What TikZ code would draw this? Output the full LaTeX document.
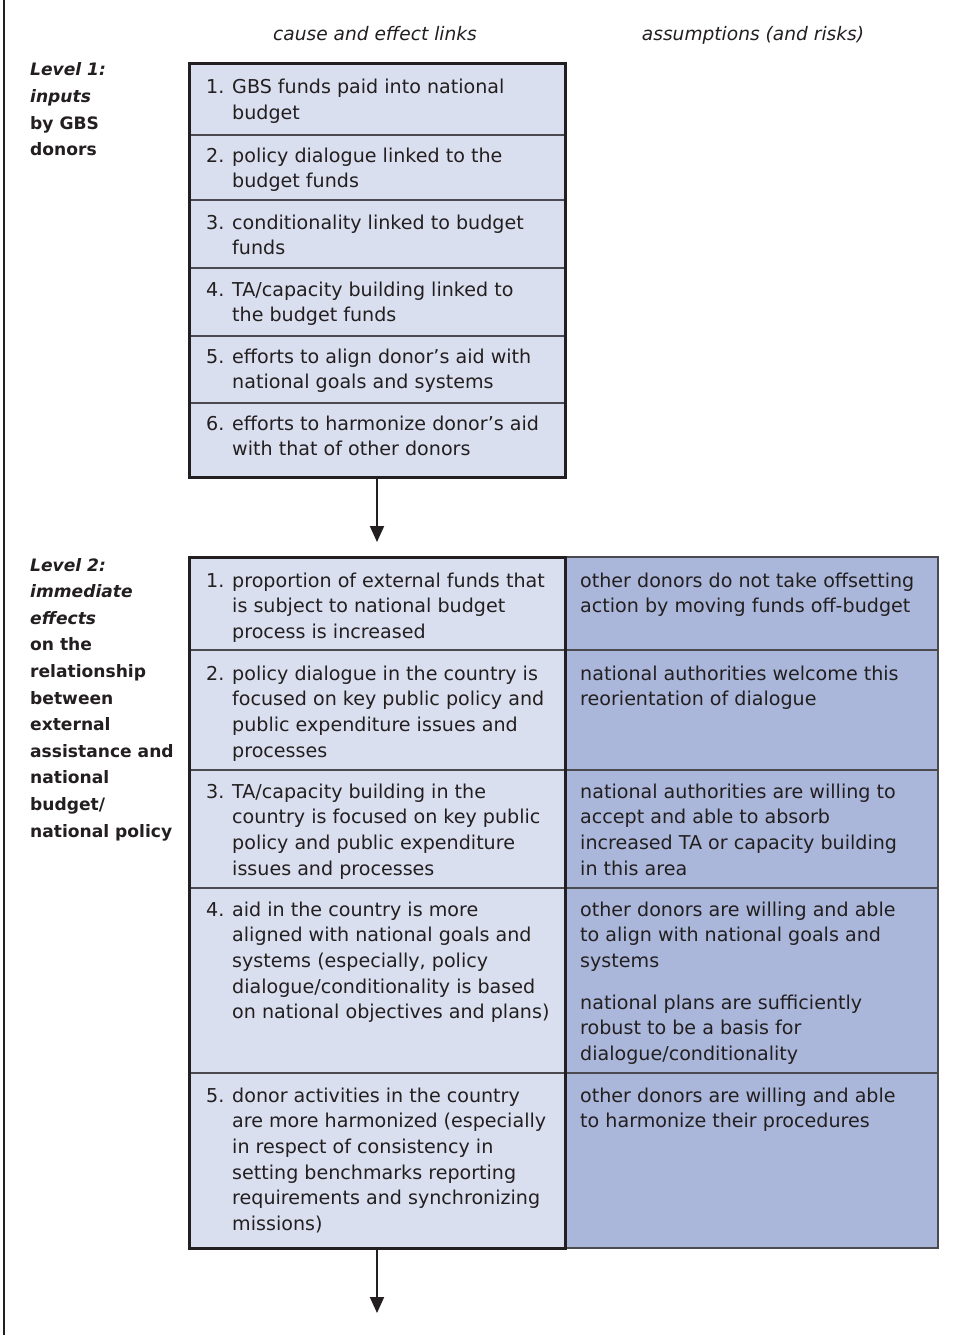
\documentclass[tikz,border=0pt]{standalone}
\usepackage{fontspec}
\setmainfont{DejaVu Sans}
\usetikzlibrary{arrows.meta}
\definecolor{ink}{HTML}{231F20}
\definecolor{lightfill}{HTML}{DADFEF}
\definecolor{darkfill}{HTML}{AAB7DA}
\definecolor{rulegray}{HTML}{4A4A50}
\newcommand{\itm}[2]{\makebox[26pt][l]{#1}\begin{tabular}[t]{@{}l@{}}#2\end{tabular}}
\newcommand{\lns}[1]{\begin{tabular}[t]{@{}l@{}}#1\end{tabular}}
\begin{document}
\begin{tikzpicture}[x=1pt,y=-1pt,
  txt/.style={anchor=base west, inner sep=0pt, text=ink, font=\fontsize{19.1}{25.7}\selectfont},
  lab/.style={anchor=base west, inner sep=0pt, text=ink, font=\fontsize{17.1}{26.6}\selectfont\bfseries},
  hdr/.style={anchor=base, inner sep=0pt, text=ink, font=\fontsize{18.6}{25.7}\selectfont\itshape},
  inbox/.style={draw=ink, line width=3pt, fill=lightfill, anchor=north west, inner sep=0pt, outer sep=0pt},
  asmbox/.style={draw=rulegray, line width=1.3pt, fill=darkfill, anchor=north west, inner sep=0pt, outer sep=0pt},
  sep/.style={draw=rulegray, line width=1.4pt},
  flow/.style={draw=ink, line width=2pt, -{Triangle[length=16pt,width=14pt]}}
]
\useasboundingbox (0,0) rectangle (957,1335);
\fill[white] (0,0) rectangle (957,1335);
\draw[ink, line width=2.2pt] (4,0) -- (4,1335);

% headers
\node[hdr] (h1) at (375,41) {cause and effect links};
\node[hdr] (h2) at (753,41) {assumptions (and risks)};

% level labels
\node[lab] (lev1) at (30,76) {\lns{\textit{Level 1:}\\\textit{inputs}\\by GBS\\donors}};
\node[lab] (lev2) at (30,571) {\lns{\textit{Level 2:}\\\textit{immediate}\\\textit{effects}\\on the\\relationship\\between\\external\\assistance and\\national\\budget/\\national policy}};

% level 1 box
\node[inbox, minimum width=376pt, minimum height=413pt] (L1) at (189,64) {};
\foreach \yy in {135,200,268,336,403} \draw[sep] (190.5,\yy) -- (563.5,\yy);
\node[txt] (a1) at (206,94) {\itm{1.}{GBS funds paid into national\\budget}};
\node[txt] (a2) at (206,162) {\itm{2.}{policy dialogue linked to the\\budget funds}};
\node[txt] (a3) at (206,229) {\itm{3.}{conditionality linked to budget\\funds}};
\node[txt] (a4) at (206,296) {\itm{4.}{TA/capacity building linked to\\the budget funds}};
\node[txt] (a5) at (206,363) {\itm{5.}{efforts to align donor’s aid with\\national goals and systems}};
\node[txt] (a6) at (206,430) {\itm{6.}{efforts to harmonize donor’s aid\\with that of other donors}};

% level 2 boxes
\node[asmbox, minimum width=373pt, minimum height=691pt] (R2) at (565,557) {};
\foreach \yy in {650,770,888,1073} \draw[sep] (565,\yy) -- (938,\yy);
\node[inbox, minimum width=376pt, minimum height=691pt] (L2) at (189,557) {};
\foreach \yy in {650,770,888,1073} \draw[sep] (190.5,\yy) -- (563.5,\yy);

\node[txt] (b1) at (206,587) {\itm{1.}{proportion of external funds that\\is subject to national budget\\process is increased}};
\node[txt] (b2) at (206,680) {\itm{2.}{policy dialogue in the country is\\focused on key public policy and\\public expenditure issues and\\processes}};
\node[txt] (b3) at (206,798) {\itm{3.}{TA/capacity building in the\\country is focused on key public\\policy and public expenditure\\issues and processes}};
\node[txt] (b4) at (206,916) {\itm{4.}{aid in the country is more\\aligned with national goals and\\systems (especially, policy\\dialogue/conditionality is based\\on national objectives and plans)}};
\node[txt] (b5) at (206,1102) {\itm{5.}{donor activities in the country\\are more harmonized (especially\\in respect of consistency in\\setting benchmarks reporting\\requirements and synchronizing\\missions)}};

\node[txt] (c1) at (580,587) {\lns{other donors do not take offsetting\\action by moving funds off-budget}};
\node[txt] (c2) at (580,680) {\lns{national authorities welcome this\\reorientation of dialogue}};
\node[txt] (c3) at (580,798) {\lns{national authorities are willing to\\accept and able to absorb\\increased TA or capacity building\\in this area}};
\node[txt] (c4) at (580,916) {\lns{other donors are willing and able\\to align with national goals and\\systems}};
\node[txt] (c4b) at (580,1009) {\lns{national plans are sufficiently\\robust to be a basis for\\dialogue/conditionality}};
\node[txt] (c5) at (580,1102) {\lns{other donors are willing and able\\to harmonize their procedures}};

% arrows
\draw[flow, shorten >=15pt] (L1.south) -- (L2.north);
\coordinate (next) at (377,1313);
\draw[flow] (L2.south) -- (next);
\end{tikzpicture}
\end{document}
